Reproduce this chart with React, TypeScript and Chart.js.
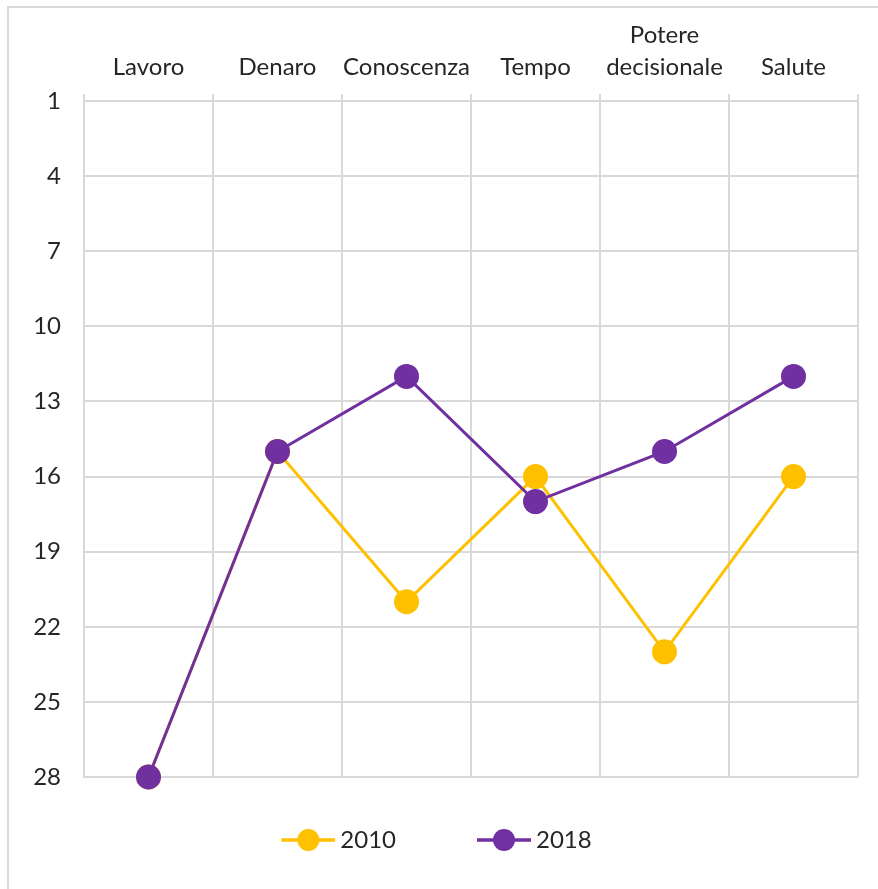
import React, { useEffect, useRef } from "react";
import { Chart, registerables } from "chart.js";

Chart.register(...registerables);

// ---- data ----
const categories: (string | string[])[] = [
  "Lavoro",
  "Denaro",
  "Conoscenza",
  "Tempo",
  ["Potere", "decisionale"],
  "Salute",
];
const seriesLabels = ["2010", "2018"];
const values2010 = [28, 15, 21, 16, 23, 16];
const values2018 = [28, 15, 12, 17, 15, 12];
const seriesColors = ["#FFC000", "#7030A0"];
const yMin = 1;
const yMax = 28;
const yStep = 3;

const FONT = "Lato";
const TEXT = "#262626";
const GRID = "#d9d9d9";

function legendMarker(color: string): HTMLCanvasElement {
  const c = document.createElement("canvas");
  c.width = 91;
  c.height = 26;
  const g = c.getContext("2d")!;
  g.strokeStyle = color;
  g.lineWidth = 3.5;
  g.beginPath();
  g.moveTo(37, 13);
  g.lineTo(91, 13);
  g.stroke();
  g.fillStyle = color;
  g.beginPath();
  g.arc(64, 13, 11, 0, Math.PI * 2);
  g.fill();
  return c;
}

export default function App() {
  const ref = useRef<HTMLCanvasElement | null>(null);

  useEffect(() => {
    let chart: Chart | null = null;
    let cancelled = false;
    const build = () => {
      if (cancelled || !ref.current) return;
      const markers = seriesColors.map(legendMarker);
      chart = new Chart(ref.current, {
        type: "line",
        data: {
          labels: categories as any,
          datasets: [
            {
              label: seriesLabels[0],
              data: values2010,
              borderColor: seriesColors[0],
              backgroundColor: seriesColors[0],
              pointBackgroundColor: seriesColors[0],
              pointBorderWidth: 0,
              pointRadius: 12.5,
              borderWidth: 3,
              tension: 0,
              clip: false as any,
              order: 1,
            },
            {
              label: seriesLabels[1],
              data: values2018,
              borderColor: seriesColors[1],
              backgroundColor: seriesColors[1],
              pointBackgroundColor: seriesColors[1],
              pointBorderWidth: 0,
              pointRadius: 12.5,
              borderWidth: 3,
              tension: 0,
              clip: false as any,
              order: 0,
            },
          ],
        },
        options: {
          responsive: false,
          animation: false,
          layout: { padding: { left: -24, right: 20, top: 0, bottom: 27 } },
          plugins: {
            tooltip: { enabled: false },
            legend: {
              position: "bottom",
              labels: {
                usePointStyle: true,
                pointStyleWidth: 77,
                padding: 51,
                color: TEXT,
                font: { family: FONT, size: 24 },
                generateLabels: (ch: any) => {
                  const items = (Chart.defaults.plugins.legend.labels as any).generateLabels(ch);
                  return items
                    .sort((a: any, b: any) => a.datasetIndex - b.datasetIndex)
                    .map((it: any) => ({ ...it, pointStyle: markers[it.datasetIndex] }));
                },
              },
            },
          },
          scales: {
            x: {
              type: "category",
              position: "top",
              offset: true,
              grid: {
                offset: true,
                color: GRID,
                lineWidth: 2,
                drawTicks: true,
                tickLength: 7,
                tickColor: GRID,
                tickWidth: 2,
              },
              border: { display: true, color: GRID, width: 2 },
              ticks: {
                color: TEXT,
                font: { family: FONT, size: 24, lineHeight: 1.333 },
                padding: 11,
                maxRotation: 0,
                minRotation: 0,
                autoSkip: false,
              },
              afterFit: (s: any) => {
                s.height = 93;
              },
            },
            y: {
              type: "linear",
              reverse: true,
              min: yMin,
              max: yMax,
              grid: { color: GRID, lineWidth: 2, drawTicks: false },
              border: { display: true, color: GRID, width: 2 },
              ticks: {
                stepSize: yStep,
                color: TEXT,
                font: { family: FONT, size: 24 },
                padding: 23,
              },
              afterFit: (s: any) => {
                s.width = 99;
              },
            },
          },
        },
      });
    };
    const fonts: any = (document as any).fonts;
    if (fonts && fonts.load) {
      fonts.load(`24px ${FONT}`).then(build, build);
    } else {
      build();
    }
    return () => {
      cancelled = true;
      if (chart) chart.destroy();
    };
  }, []);

  return (
    <div
      style={{
        position: "fixed",
        left: 7,
        top: 6,
        borderTop: `2px solid ${GRID}`,
        borderLeft: `2px solid ${GRID}`,
        background: "#fff",
      }}
    >
      <canvas ref={ref} width={869} height={881} style={{ display: "block" }} />
    </div>
  );
}
